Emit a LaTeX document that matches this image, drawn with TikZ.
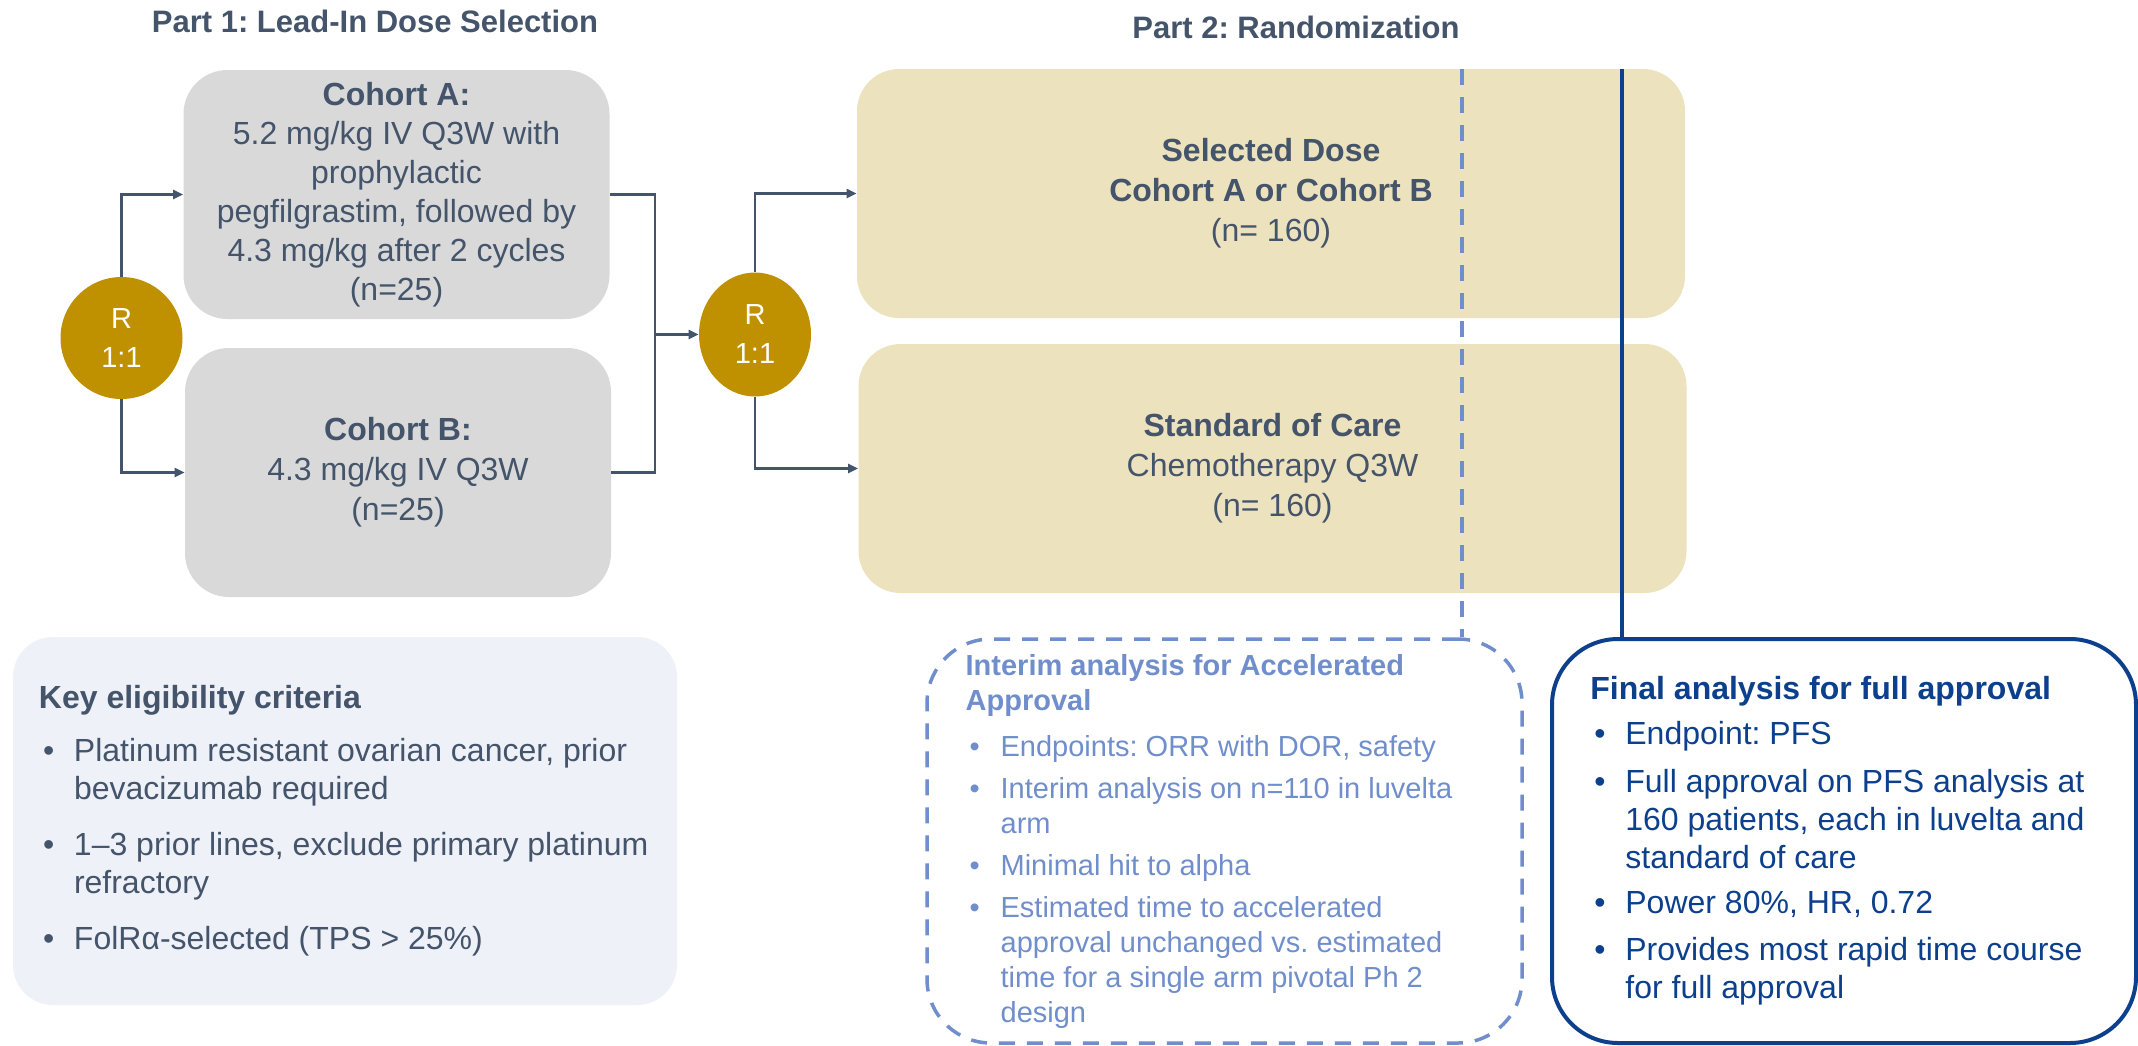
\documentclass[tikz,border=0pt]{standalone}
\usepackage{fontspec}
\setmainfont{Liberation Sans}
\usetikzlibrary{arrows.meta,calc,shapes.geometric}
\definecolor{slate}{RGB}{68,84,106}
\definecolor{boxgrey}{RGB}{217,217,217}
\definecolor{armtan}{RGB}{237,226,190}
\definecolor{gold}{RGB}{191,144,0}
\definecolor{keyfill}{RGB}{238,241,248}
\definecolor{dashblue}{RGB}{111,142,203}
\definecolor{navy}{RGB}{12,64,140}
\newcommand\bul{\hspace*{2pt}\makebox[15.5pt][l]{\textbullet}}
\newcommand\cont{\hspace*{17.5pt}}
\frenchspacing
\begin{document}
\begin{tikzpicture}[x=0.5pt,y=-0.5pt,
  cohortbox/.style={fill=boxgrey, rounded corners=22pt, minimum width=213pt, minimum height=124.5pt, inner sep=0pt, align=center, text=slate, font=\fontsize{16}{19.5}\selectfont},
  armbox/.style={fill=armtan, rounded corners=21pt, minimum width=414pt, minimum height=124.5pt, inner sep=0pt, align=center, text=slate, font=\fontsize{16}{20}\selectfont},
  rnode/.style={fill=gold, text=white, inner sep=0pt, align=center, font=\fontsize{14.5}{19.5}\selectfont},
  titletext/.style={text=slate, font=\bfseries\fontsize{15.5}{18}\selectfont, inner sep=0pt},
  arr/.style={draw=slate, line width=1.1pt, -{Triangle[length=5pt,width=4.5pt]}},
  conn/.style={draw=slate, line width=1.1pt},
  dashline/.style={draw=dashblue, line width=1.75pt, dash pattern=on 8pt off 6pt},
  navyline/.style={draw=navy, line width=2pt},
  bodytext/.style={anchor=west, align=left, inner sep=0pt}
]
\useasboundingbox (0,0) rectangle (2138,1045);

% titles
\node[titletext] (t1) at (375,21) {Part 1: Lead-In Dose Selection};
\node[titletext] (t2) at (1296,27) {Part 2: Randomization};

% part 1
\node[cohortbox] (cohA) at (396.5,194.5) {\textbf{Cohort A:}\\5.2 mg/kg IV Q3W with\\prophylactic\\pegfilgrastim, followed by\\4.3 mg/kg after 2 cycles\\(n=25)};
\node[cohortbox, font=\fontsize{16}{20}\selectfont] (cohB) at (398,472.5) {\textbf{Cohort B:}\\4.3 mg/kg IV Q3W\\(n=25)};
\node[rnode, circle, minimum size=61pt] (R1) at (121.5,338) {R\\1:1};

% part 2
\node[rnode, ellipse, minimum width=56pt, minimum height=62pt] (R2) at (755,334.5) {R\\1:1};
\node[armbox] (sel) at (1271,193.5) {\textbf{Selected Dose}\\\textbf{Cohort A or Cohort B}\\(n= 160)};
\node[armbox] (soc) at (1272.5,468.5) {\textbf{Standard of Care}\\Chemotherapy Q3W\\(n= 160)};

% connectors part 1
\draw[arr] (R1.north) |- (cohA.west);
\draw[arr] (R1.south) |- (cohB.west);
\coordinate (m) at (655,334.5);
\draw[conn] (cohA.east) -| (m) |- (cohB.east);
\draw[arr] (m) -- (R2.west);
\draw[arr] (R2.north) |- (sel.west);
\draw[arr] (R2.south) |- (soc.west);

% bottom boxes
\node[fill=keyfill, rounded corners=20pt, minimum width=332pt, minimum height=184pt, inner sep=0pt] (key) at (345,821) {};
\node[bodytext, text=slate, font=\fontsize{16}{19}\selectfont] (keytxt) at ($(key.west)+(26,0)$) {%
\textbf{Key eligibility criteria}\\[7.5pt]
\bul Platinum resistant ovarian cancer, prior\\
\cont bevacizumab required\\[9pt]
\bul 1--3 prior lines, exclude primary platinum\\
\cont refractory\\[9pt]
\bul FolRα-selected (TPS > 25\%)};

\node[dashline, rounded corners=32pt, minimum width=297.5pt, minimum height=202pt, inner sep=0pt] (interim) at (1224.5,841) {};
\node[bodytext, text=dashblue, font=\fontsize{14.5}{17.5}\selectfont] (intxt) at ($(interim.west)+(40,0)$) {%
\textbf{Interim analysis for Accelerated}\\
\textbf{Approval}\\[5.5pt]
\bul Endpoints: ORR with DOR, safety\\[3.5pt]
\bul Interim analysis on n=110 in luvelta\\
\cont arm\\[3.5pt]
\bul Minimal hit to alpha\\[3.5pt]
\bul Estimated time to accelerated\\
\cont approval unchanged vs. estimated\\
\cont time for a single arm pivotal Ph 2\\
\cont design};

\node[navyline, rounded corners=33pt, minimum width=292pt, minimum height=202pt, inner sep=0pt] (final) at (1844,841) {};
\node[bodytext, text=navy, font=\fontsize{16}{19}\selectfont] (fintxt) at ($(final.west)+(40,0)$) {%
\textbf{Final analysis for full approval}\\[3.5pt]
\bul Endpoint: PFS\\[5pt]
\bul Full approval on PFS analysis at\\
\cont 160 patients, each in luvelta and\\
\cont standard of care\\[3.5pt]
\bul Power 80\%, HR, 0.72\\[4.5pt]
\bul Provides most rapid time course\\
\cont for full approval};

% analysis lines
\coordinate (dtop) at (1462,69);
\draw[dashline] (dtop) -- (dtop |- interim.north);
\coordinate (ftop) at (1622,69);
\draw[navyline] (ftop) -- (ftop |- final.north);
\end{tikzpicture}
\end{document}
